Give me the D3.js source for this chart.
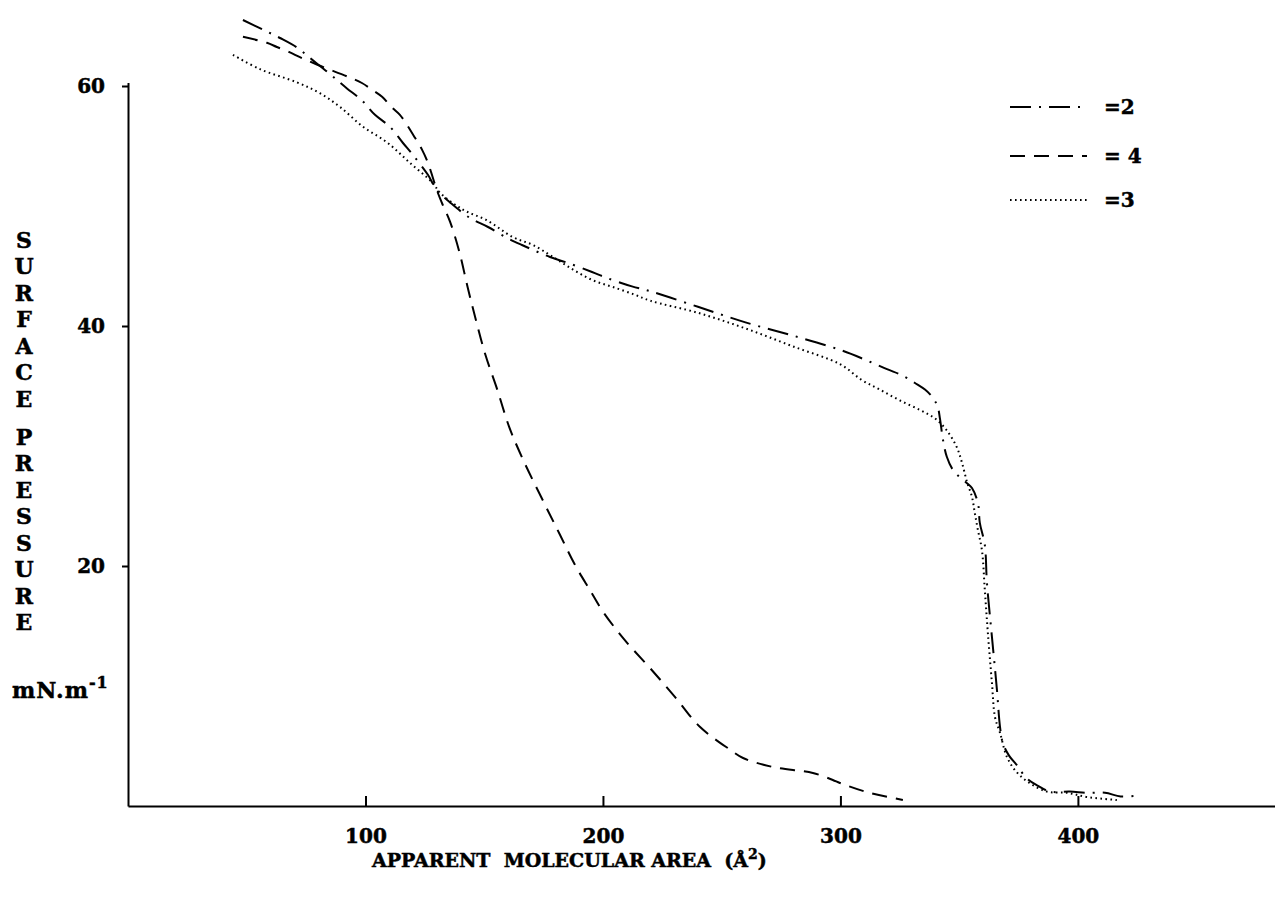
<!DOCTYPE html>
<html>
<head>
<meta charset="utf-8">
<script src="https://cdn.jsdelivr.net/npm/d3@7"></script>
<style>
  body { margin: 0; background: #fff; }
  text { font-family: "DejaVu Serif", serif; font-weight: bold; fill: #000; stroke: #000; stroke-width: 0.5px; }
</style>
</head>
<body>
<div id="chart"></div>
<script>
var svgWidth = 1275;
var svgHeight = 908;

// series "=2" (dash-dot)
var areaTwo = [48.4, 56.8, 64.0, 71.2, 77.5, 83.8, 88.0, 92.2, 98.5, 104.0, 110.3, 115.8, 120.0, 126.3, 130.1,
  135.6, 144.0, 151.6, 160.0, 165.9, 177.7, 185.3, 195.4, 201.7, 212.2, 220, 240, 260, 280, 300, 310.3, 319.6,
  325.9, 331.4, 335.6, 339, 341.0, 341.9, 343.2, 344.8, 347.4, 350.3, 353.3, 355.4, 357.9, 358.7, 360.8, 361.7,
  363.8, 365.9, 367.2, 368.4, 371, 374.3, 378.5, 383, 388.2, 396.6, 403.8, 411.4, 418, 424.5];
var pressTwo = [65.5, 64.7, 64.0, 63.2, 62.2, 61.2, 60.5, 59.8, 58.8, 57.6, 56.6, 55.25, 54.25, 52.6, 51.3,
  50.3, 49.0, 48.25, 47.3, 46.75, 45.75, 45.25, 44.5, 44.0, 43.3, 42.9, 41.6, 40.3, 39.2, 38.0, 37.2, 36.4,
  35.9, 35.25, 34.7, 34.0, 33.25, 32.3, 30.5, 29.1, 28.0, 27.4, 26.9, 26.5, 25.25, 23.6, 21.75, 18.6,
  14.1, 9.7, 6.6, 5.25, 4.2, 3.4, 2.3, 1.7, 1.2, 1.2, 1.1, 1.1, 0.8, 0.85];

// series "= 4" (dashed)
var areaFour = [48.4, 58.5, 62.7, 68.2, 72.4, 80.0, 93.5, 98.5, 102.7, 107.0, 111.2, 114.5, 117.5, 120.8, 123.8,
  126.3, 130.1, 132.2, 135.6, 139.5, 143.0, 146.5, 150.5, 155.5, 160.5, 166.5, 175.6, 181.9, 188.2, 194.5, 200,
  209.3, 219.8, 230.3, 240.8, 253.5, 259, 271.6, 288.4, 296.8, 299.8, 311, 326.3];
var pressFour = [64.1, 63.6, 63.25, 62.8, 62.4, 61.75, 60.7, 60.25, 59.7, 59.1, 58.2, 57.6, 56.75, 55.7, 54.7,
  53.6, 51.3, 50.25, 48.7, 46.2, 43.25, 40.5, 37.6, 34.7, 31.6, 28.8, 25.1, 22.6, 20.1, 18.0, 16.2,
  13.8, 11.5, 9.1, 6.6, 4.7, 4.0, 3.25, 2.75, 2.17, 1.92, 1.17, 0.5];

// series "=3" (dotted)
var areaThree = [44.2, 55.6, 71.2, 80.8, 89.3, 99.0, 109.1, 118.7, 128.4, 131.4, 141, 151.2, 162.1, 170.5, 179,
  187.4, 195.8, 204.2, 213.5, 220, 240, 260, 280, 300, 309, 316.6, 325, 333.5, 339.8, 344.8, 349, 351.2, 353.3,
  355.4, 356.6, 357.9, 359.6, 360.8, 362.1, 363.8, 365.1, 367.2, 370.1, 374.3, 379.8, 387, 395.4, 403.8, 416.4];
var pressThree = [62.6, 61.4, 60.3, 59.4, 58.25, 56.6, 55.3, 53.6, 51.9, 51.1, 49.7, 48.8, 47.4, 46.75, 45.75,
  44.7, 43.8, 43.25, 42.6, 42.1, 41.1, 39.8, 38.3, 36.8, 35.5, 34.7, 33.8, 33.0, 32.3, 31.3, 29.9, 28.6, 27.0,
  25.75, 24.4, 23.0, 21.3, 18.0, 14.4, 10.25, 7.4, 6.1, 4.1, 2.8, 1.9, 1.2, 1.1, 0.75, 0.5];

var xTicks = [100, 200, 300, 400];
var yTicks = [20, 40, 60];
var legendLabels = ["=2", "= 4", "=3"];
var yTitleWords = ["SURFACE", "PRESSURE"];

var svg = d3.select("#chart")
  .append("svg")
  .attr("width", svgWidth)
  .attr("height", svgHeight);

// scales: origin sits at (128, 806)
var xScale = d3.scaleLinear().domain([0, 483]).range([128, 1275]);
var yScale = d3.scaleLinear().domain([0, 60.3]).range([806, 806 - 60.3 * 12]);

// x axis, ticks pointing up
var xAxis = svg.append("g")
  .attr("transform", `translate(0, ${yScale(0)})`)
  .call(d3.axisBottom(xScale).tickValues(xTicks).tickSizeInner(-10).tickSizeOuter(0).tickPadding(23));

// y axis, short ticks to the left
var yAxis = svg.append("g")
  .attr("transform", `translate(${xScale(0)}, 0)`)
  .call(d3.axisLeft(yScale).tickValues(yTicks).tickSizeInner(6).tickSizeOuter(0).tickPadding(17));

svg.selectAll(".domain, .tick line")
  .attr("stroke", "#000")
  .attr("stroke-width", 2);
svg.selectAll(".tick text")
  .attr("font-family", "DejaVu Serif")
  .attr("font-weight", "bold")
  .attr("font-size", 20)
  .attr("fill", "#000");

// curves
var series = [
  {xs: areaTwo, ys: pressTwo, dash: "21,8,2,8"},
  {xs: areaFour, ys: pressFour, dash: "15,9"},
  {xs: areaThree, ys: pressThree, dash: "1.6,3.4"}
];

var line = d3.line()
  .x(d => xScale(d[0]))
  .y(d => yScale(d[1]))
  .curve(d3.curveCatmullRom.alpha(0.5));

series.forEach(function(s) {
  var pts = s.xs.map((x, i) => [x, s.ys[i]]);
  svg.append("path")
    .datum(pts)
    .attr("d", line)
    .attr("fill", "none")
    .attr("stroke", "#000")
    .attr("stroke-width", 2)
    .attr("stroke-dasharray", s.dash);
});

// legend
var legendY = [107, 156, 200];
series.forEach(function(s, i) {
  svg.append("line")
    .attr("x1", 1010).attr("x2", 1087)
    .attr("y1", legendY[i]).attr("y2", legendY[i])
    .attr("stroke", "#000")
    .attr("stroke-width", 2)
    .attr("stroke-dasharray", s.dash);
  svg.append("text")
    .attr("x", 1104)
    .attr("y", legendY[i] + 7)
    .attr("font-size", 20)
    .style("white-space", "pre")
    .text(legendLabels[i]);
});

// y title, stacked letters
var letterY = 240;
yTitleWords.forEach(function(word, w) {
  if (w > 0) letterY += 11.5;
  word.split("").forEach(function(ch) {
    svg.append("text")
      .attr("x", 24)
      .attr("y", letterY)
      .attr("dy", "0.36em")
      .attr("text-anchor", "middle")
      .attr("font-size", 22)
      .text(ch);
    letterY += 26.5;
  });
});

var unit = svg.append("text")
  .attr("x", 12)
  .attr("y", 698)
  .attr("font-size", 22)
  .attr("letter-spacing", 1);
unit.append("tspan").text("mN.m");
unit.append("tspan").attr("dy", -10).attr("font-size", 16).text("-1");

// x title
var xTitle = svg.append("text")
  .attr("x", 372)
  .attr("y", 867)
  .attr("font-size", 19)
  .style("white-space", "pre");
xTitle.append("tspan").text("APPARENT  MOLECULAR AREA  (Å");
xTitle.append("tspan").attr("dy", -8).attr("font-size", 14).text("2");
xTitle.append("tspan").attr("dy", 8).text(")");
</script>
</body>
</html>
